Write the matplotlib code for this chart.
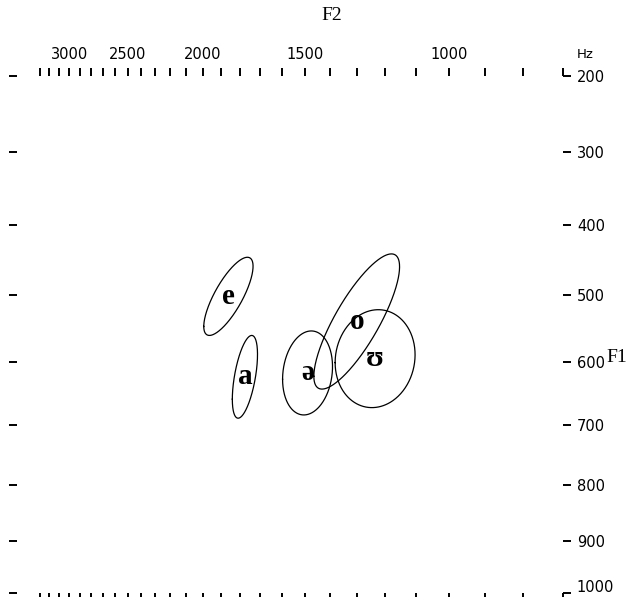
import numpy as np
import matplotlib
matplotlib.use("Agg")
import matplotlib.pyplot as plt
import matplotlib.transforms as mtransforms

# ---- data ----
vowels = ['e', 'a', 'ə', 'o', 'ʊ']
f2_mean = [1860, 1775, 1490, 1300, 1235]      # Hz
f1_mean = [502, 623, 617, 539, 595]           # Hz
f2_sd_bark = [0.46, 0.235, 0.466, 0.80, 0.746]
f1_sd_bark = [0.495, 0.524, 0.532, 0.856, 0.620]
rho = [0.77, 0.54, 0.15, 0.81, 0.08]

f2_ticks = list(range(3300, 699, -100))
f2_labels = [3000, 2500, 2000, 1500, 1000]
f1_ticks = list(range(200, 1001, 100))


def bark(f):
    f = np.asarray(f, dtype=float)
    return 13.0 * np.arctan(0.00076 * f) + 3.5 * np.arctan((f / 7500.0) ** 2)


_grid = np.linspace(0, 20000, 200001)
_zgrid = bark(_grid)


def inv_bark(z):
    return np.interp(np.asarray(z, dtype=float), _zgrid, _grid)


W, H = 631, 597
fig = plt.figure(figsize=(W / 100, H / 100), dpi=100)
ax = fig.add_axes([17 / W, (H - 593) / H, (563 - 17) / W, 517 / H])

ax.set_xscale('function', functions=(bark, inv_bark))
ax.set_yscale('function', functions=(bark, inv_bark))
ax.set_xlim(3550, 700)
ax.set_ylim(1000, 200)

t = np.linspace(0, 2 * np.pi, 400)
for v, fx, fy, sx, sy, r in zip(vowels, f2_mean, f1_mean, f2_sd_bark, f1_sd_bark, rho):
    zx = bark(fx) + sx * np.cos(t)
    zy = bark(fy) + sy * (r * np.cos(t) + np.sqrt(1 - r * r) * np.sin(t))
    ax.plot(inv_bark(zx), inv_bark(zy), color='black', lw=0.9)
    ax.text(fx, fy, v, ha='center', va='center', fontsize=21, fontweight='bold',
            family=['Liberation Serif', 'DejaVu Serif'], color='black')

for s in ax.spines.values():
    s.set_visible(False)

ax.set_xticks(f2_ticks)
ax.set_xticklabels([str(f) if f in f2_labels else '' for f in f2_ticks])
ax.xaxis.set_minor_locator(matplotlib.ticker.NullLocator())
ax.set_yticks(f1_ticks)
ax.set_yticklabels([str(f) for f in f1_ticks])
ax.yaxis.set_minor_locator(matplotlib.ticker.NullLocator())

ax.tick_params(axis='x', which='major', direction='out', length=6, width=1.4,
               top=True, bottom=True, labeltop=True, labelbottom=False,
               labelsize=10.5, pad=4, colors='black')
ax.tick_params(axis='y', which='major', direction='out', length=6, width=1.4,
               left=True, right=True, labelleft=False, labelright=True,
               labelsize=10.5, pad=4, colors='black')

# lift the last F1 label so that it stays inside the picture
last = ax.get_yticklabels(which='major')[-1]
fig.canvas.draw()
for lab in ax.yaxis.get_majorticklabels():
    if lab.get_text() == '1000':
        lab.set_transform(lab.get_transform() +
                          mtransforms.ScaledTranslation(0, 5 / 72, fig.dpi_scale_trans))

fig.text(332 / W, 1 - 15 / H, 'F2', ha='center', va='center', fontsize=14,
         family='Liberation Serif')
fig.text(617 / W, 1 - 358 / H, 'F1', ha='center', va='center', fontsize=14,
         family='Liberation Serif')
fig.text(577 / W, 1 - 55 / H, 'Hz', ha='left', va='center', fontsize=9.5,
         family='DejaVu Sans')

fig.savefig('out.png', dpi=100)
